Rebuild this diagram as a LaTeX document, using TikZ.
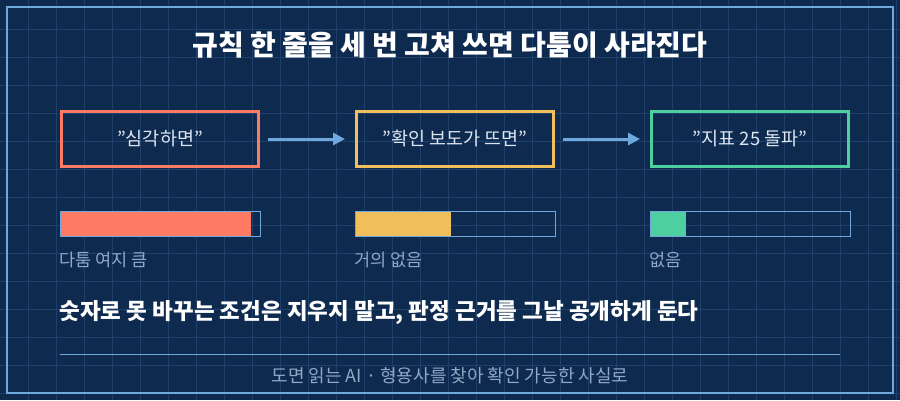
\documentclass[tikz,border=0pt]{standalone}
\usepackage{fontspec}
\setmainfont{Noto Sans CJK KR}
\usetikzlibrary{arrows.meta,positioning}
\definecolor{bgnavy}{HTML}{0F2A4F}
\definecolor{gridline}{HTML}{1F406B}
\definecolor{edgeblue}{HTML}{6FA8DC}
\definecolor{redbox}{HTML}{FF7A65}
\definecolor{yellowbox}{HTML}{F0BE5A}
\definecolor{greenbox}{HTML}{4ECF9F}
\definecolor{softtext}{HTML}{DCE6F2}
\definecolor{dimtext}{HTML}{8FA8C8}
\newcommand{\qt}{\char34\relax}
\begin{document}
\begin{tikzpicture}[
  x=1pt, y=-1pt,
  >={Triangle[length=12pt,width=12pt]},
  phrase/.style = {draw, line width=3pt, minimum width=197pt, minimum height=55pt,
    text=softtext, font=\fontsize{18.5}{22}\selectfont},
  flow/.style   = {->, edgeblue, line width=3pt},
  meter/.style  = {draw=edgeblue, line width=1pt},
  note/.style   = {text=dimtext, font=\fontsize{17.5}{20}\selectfont, anchor=west}
]

% ---- background ----
\fill[bgnavy] (0,0) rectangle (900,400);
\useasboundingbox (0,0) rectangle (900,400);
\foreach \i in {1,...,32} \draw[gridline, line width=1pt] (\i*28,0) -- (\i*28,400);
\foreach \j in {1,...,14} \draw[gridline, line width=1pt] (0,\j*28+1) -- (900,\j*28+1);
\draw[edgeblue, line width=1.5pt] (7,7) rectangle (893,393);

% ---- title ----
\node[text=white, font=\bfseries\fontsize{28}{32}\selectfont] (title) at (450,45)
  {규칙 한 줄을 세 번 고쳐 쓰면 다툼이 사라진다};

% ---- phrase boxes ----
\node[phrase, draw=redbox] (vague) at (160,139) {\qt 심각하면\qt};
\node[phrase, draw=yellowbox] (check) at (455,139) {\qt 확인 보도가 뜨면\qt};
\node[phrase, draw=greenbox] (index) at (750,139) {\qt 지표 25 돌파\qt};

\path (vague.east) ++(8,0) coordinate (a1) (check.west) ++(-10,0) coordinate (a2);
\draw[flow] (a1) -- (a2);
\path (check.east) ++(8,0) coordinate (b1) (index.west) ++(-10,0) coordinate (b2);
\draw[flow] (b1) -- (b2);

% ---- dispute meters ----
\fill[redbox] (60,211) rectangle (251,236);
\draw[meter] (60,211) rectangle (260,236);
\node[note] (m1) at (56,260) {다툼 여지 큼};

\fill[yellowbox] (355,211) rectangle (451,236);
\draw[meter] (355,211) rectangle (555,236);
\node[note] (m2) at (351,260) {거의 없음};

\fill[greenbox] (650,211) rectangle (686,236);
\draw[meter] (650,211) rectangle (850,236);
\node[note] (m3) at (646,260) {없음};

% ---- takeaway ----
\node[text=white, font=\bfseries\fontsize{22.5}{26}\selectfont, anchor=west] (take) at (56,313)
  {숫자로 못 바꾸는 조건은 지우지 말고, 판정 근거를 그날 공개하게 둔다};
\draw[edgeblue, line width=1pt] (60,354) -- (840,354);
\node[text=dimtext, font=\fontsize{18}{21}\selectfont] (foot) at (450,376)
  {도면 읽는 AI · 형용사를 찾아 확인 가능한 사실로};
\end{tikzpicture}
\end{document}
